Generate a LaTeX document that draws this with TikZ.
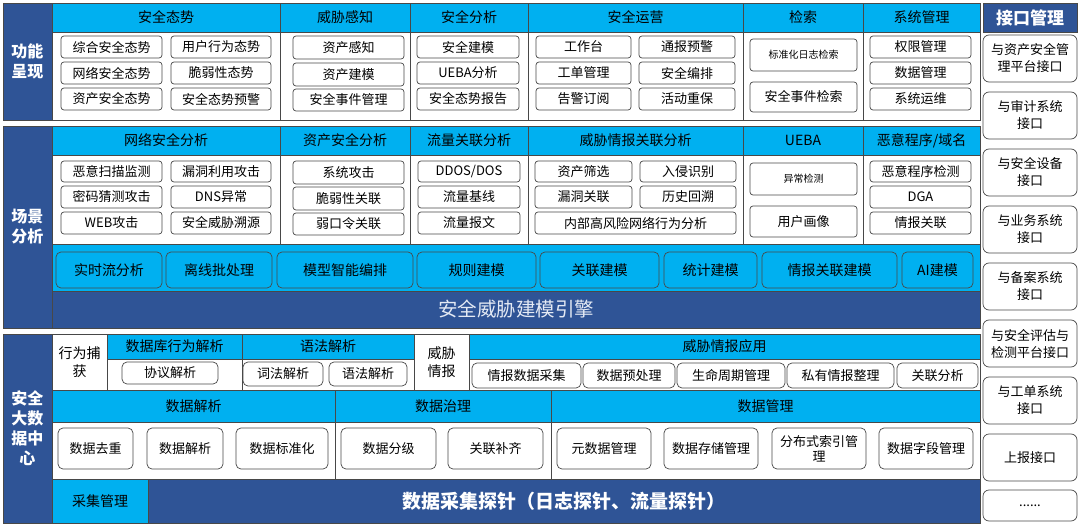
\documentclass[tikz,border=0pt]{standalone}
\usepackage{fontspec}
\setmainfont{Noto Sans CJK SC}
\usepackage{tikz}
\usetikzlibrary{arrows,shapes}
\definecolor{deepblue}{RGB}{47,84,150}
\definecolor{skyblue}{RGB}{0,176,240}
\definecolor{edgegray}{RGB}{72,72,72}
\definecolor{palewhite}{RGB}{228,234,244}
\tikzstyle{cell}=[draw=edgegray,line width=0.8pt,inner sep=0pt,outer sep=0pt,align=center]
\tikzstyle{head}=[cell,fill=skyblue,font=\fontsize{14}{16}\selectfont]
\tikzstyle{body}=[cell,fill=white,font=\fontsize{14}{18}\selectfont]
\tikzstyle{band}=[cell,fill=deepblue,text=white,font=\bfseries\fontsize{16}{20}\selectfont]
\tikzstyle{item}=[draw=edgegray,line width=0.7pt,rounded corners=3pt,fill=white,inner sep=0pt,align=center,font=\fontsize{13}{15}\selectfont]
\tikzstyle{model}=[item,fill=skyblue,rounded corners=5pt,font=\fontsize{14}{16}\selectfont]
\tikzstyle{port}=[item,rounded corners=6pt,font=\fontsize{13}{17}\selectfont]

\begin{document}
\begin{tikzpicture}[x=1pt,y=-1pt]
    \useasboundingbox (0,0) rectangle (1080,527);
    % First we draw the layer labels on the left
    \foreach \xa/\ya/\xb/\yb/\name/\txt in {3/3/52/120/L1/功能\\呈现, 3/126/52/328/L2/场景\\分析, 3/334/52/523/L3/安全\\大数\\据中\\心}
        \node[band,minimum width=\xb-\xa,minimum height=\yb-\ya] (\name) at ({(\xa+\xb)/2},{(\ya+\yb)/2}) {\txt};
    % Column heads and bodies of the first two layers
    \foreach \xa/\xb/\name/\txt in {52/280/11/安全态势, 280/410/12/威胁感知, 410/528/13/安全分析, 528/743/14/安全运营, 743/863/15/检索, 863/980/16/系统管理}
    {
        \node[head,minimum width=\xb-\xa,minimum height=29] (h\name) at ({(\xa+\xb)/2},17.5) {\txt};
        \node[body,minimum width=\xb-\xa,minimum height=88] (b\name) at ({(\xa+\xb)/2},76) {};
    }
    \foreach \xa/\xb/\name/\txt in {52/280/21/网络安全分析, 280/410/22/资产安全分析, 410/528/23/流量关联分析, 528/743/24/威胁情报关联分析, 743/863/25/UEBA, 863/980/26/{恶意程序/域名}}
    {
        \node[head,minimum width=\xb-\xa,minimum height=29] (h\name) at ({(\xa+\xb)/2},140.5) {\txt};
        \node[body,minimum width=\xb-\xa,minimum height=89] (b\name) at ({(\xa+\xb)/2},199.5) {};
    }
    \node[head,minimum width=928,minimum height=47] (modelrow) at (516,267.5) {};
    \node[band,minimum width=928,minimum height=37,font=\fontsize{19.5}{22}\selectfont,text=palewhite] (engine) at (516,309.5) {安全威胁建模引擎};
    % Cells of the data center layer
    \foreach \xa/\ya/\xb/\yb/\name/\txt in {52/334/107/390/c1/行为捕\\获, 107/359/242/390/c2/, 242/359/414/390/c3/, 414/334/469/390/c4/威胁\\情报, 469/359/980/390/c5/, 52/422/335/479/c6/, 335/422/551/479/c7/, 551/422/980/479/c8/}
        \node[body,minimum width=\xb-\xa,minimum height=\yb-\ya] (\name) at ({(\xa+\xb)/2},{(\ya+\yb)/2}) {\txt};
    \foreach \xa/\ya/\xb/\yb/\name/\txt in {107/334/242/359/d2/数据库行为解析, 242/334/414/359/d3/语法解析, 469/334/980/359/d5/威胁情报应用, 52/390/335/422/d6/数据解析, 335/390/551/422/d7/数据治理, 551/390/980/422/d8/数据管理, 52/479/148/523/d9/采集管理}
        \node[head,minimum width=\xb-\xa,minimum height=\yb-\ya] (\name) at ({(\xa+\xb)/2},{(\ya+\yb)/2}) {\txt};
    \node[band,minimum width=832,minimum height=44,font=\bfseries\fontsize{19}{22}\selectfont] (probe) at (564,501) {数据采集探针（日志探针、流量探针）};
    % Function items
    \foreach \xa/\ya/\xb/\yb/\name/\txt in {61/36/162/58/a1/综合安全态势, 171/36/271/58/a2/用户行为态势, 61/62/162/84/a3/网络安全态势, 171/62/271/84/a4/脆弱性态势, 61/88/162/110/a5/资产安全态势, 171/88/271/110/a6/安全态势预警,
        293/36/404/59/a7/资产感知, 293/63/404/86/a8/资产建模, 293/89/404/111/a9/安全事件管理,
        417/36/519/58/a10/安全建模, 417/62/519/84/a11/UEBA分析, 417/88/519/110/a12/安全态势报告,
        536/36/631/58/a13/工作台, 639/36/735/58/a14/通报预警, 536/62/631/84/a15/工单管理, 639/62/735/84/a16/安全编排, 536/88/631/110/a17/告警订阅, 639/88/735/110/a18/活动重保,
        750/82/857/112/a20/安全事件检索,
        870/36/971/58/a21/权限管理, 870/62/971/84/a22/数据管理, 870/88/971/110/a23/系统运维}
        \node[item,minimum width=\xb-\xa,minimum height=\yb-\ya] (\name) at ({(\xa+\xb)/2},{(\ya+\yb)/2}) {\txt};
    \node[item,minimum width=107,minimum height=32,font=\fontsize{10}{12}\selectfont] (a19) at (803.5,55) {标准化日志检索};
    % Scene items
    \foreach \xa/\ya/\xb/\yb/\name/\txt in {61/161/162/182/s1/恶意扫描监测, 171/161/271/182/s2/漏洞利用攻击, 61/186/162/208/s3/密码猜测攻击, 171/186/271/208/s4/DNS异常, 61/212/162/234/s5/WEB攻击, 171/212/271/234/s6/安全威胁溯源,
        293/161/404/184/s7/系统攻击, 293/187/404/210/s8/脆弱性关联, 293/213/404/235/s9/弱口令关联,
        418/161/520/182/s10/{DDOS/DOS}, 418/186/520/208/s11/流量基线, 418/212/520/234/s12/流量报文,
        535/161/632/182/s13/资产筛选, 640/161/736/182/s14/入侵识别, 535/186/632/208/s15/漏洞关联, 640/186/736/208/s16/历史回溯, 535/212/736/234/s17/内部高风险网络行为分析,
        750/206/857/237/s19/用户画像,
        870/161/971/182/s20/恶意程序检测, 870/186/971/208/s21/DGA, 870/212/971/234/s22/情报关联}
        \node[item,minimum width=\xb-\xa,minimum height=\yb-\ya] (\name) at ({(\xa+\xb)/2},{(\ya+\yb)/2}) {\txt};
    \node[item,minimum width=107,minimum height=32,font=\fontsize{10}{12}\selectfont] (s18) at (803.5,179) {异常检测};
    % Modeling row
    \foreach \xa/\xb/\name/\txt in {56/162/m1/实时流分析, 166/272/m2/离线批处理, 277/413/m3/模型智能编排, 417/536/m4/规则建模, 540/659/m5/关联建模, 664/757/m6/统计建模, 762/897/m7/情报关联建模, 902/973/m8/AI建模}
        \node[model,minimum width=\xb-\xa,minimum height=36] (\name) at ({(\xa+\xb)/2},270) {\txt};
    % Data center items
    \foreach \xa/\ya/\xb/\yb/\name/\txt in {122/362/218/384/t1/协议解析, 243/362/323/386/t2/词法解析, 329/362/407/386/t3/语法解析,
        472/363/581/388/t4/情报数据采集, 583/363/675/388/t5/数据预处理, 677/363/785/388/t6/生命周期管理, 787/363/894/388/t7/私有情报整理, 897/363/978/388/t8/关联分析,
        58/428/133/469/t9/数据去重, 147/428/223/469/t10/数据解析, 236/428/328/469/t11/数据标准化, 341/428/436/469/t12/数据分级, 448/428/543/469/t13/关联补齐,
        557/428/651/469/t14/元数据管理, 664/428/758/469/t15/数据存储管理, 772/428/866/469/t16/分布式索引管\\理, 879/428/973/469/t17/数据字段管理}
        \node[item,rounded corners=5pt,minimum width=\xb-\xa,minimum height=\yb-\ya] (\name) at ({(\xa+\xb)/2},{(\ya+\yb)/2}) {\txt};
    % Interface column
    \node[band,minimum width=94,minimum height=29,font=\bfseries\fontsize{17}{20}\selectfont] (ports) at (1030,17.5) {接口管理};
    \foreach \i/\name/\txt in {0/p1/与资产安全管\\理平台接口, 1/p2/与审计系统\\接口, 2/p3/与安全设备\\接口, 3/p4/与业务系统\\接口, 4/p5/与备案系统\\接口, 5/p6/与安全评估与\\检测平台接口, 6/p7/与工单系统\\接口, 7/p8/上报接口}
        \node[port,minimum width=94,minimum height=47] (\name) at (1030,{58.5+57*\i}) {\txt};
    \node[port,minimum width=94,minimum height=31] (p9) at (1030,505.5) {......};
\end{tikzpicture}
\end{document}
